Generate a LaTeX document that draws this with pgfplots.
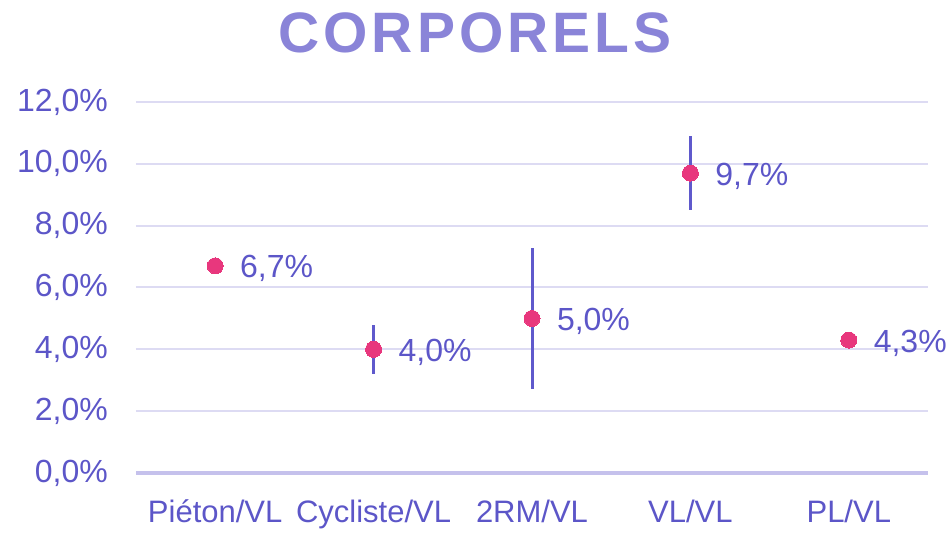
\documentclass[border=0pt]{standalone}
\usepackage{fontspec}
\setmainfont{Liberation Sans}
\newfontfamily\titlefont[LetterSpace=7]{Liberation Sans}
\usepackage{pgfplots}
\pgfplotsset{compat=1.18}
\definecolor{titlecol}{HTML}{8A84D8}
\definecolor{textcol}{HTML}{5C56C8}
\definecolor{dotcol}{HTML}{E8377D}
\definecolor{barcol}{HTML}{5F59CC}
\definecolor{gridcol}{HTML}{DDDBF3}
\definecolor{zerocol}{HTML}{C5C1EC}
\begin{document}
\begin{tikzpicture}
\useasboundingbox (0,0) rectangle (951pt,533pt);
\node[font=\titlefont\bfseries\fontsize{57}{64}\selectfont, text=titlecol, anchor=base, inner sep=0pt] at (475pt,480pt) {CORPORELS};
\begin{axis}[
  at={(136pt,60pt)}, anchor=south west,
  width=792pt, height=371pt, scale only axis,
  xmin=-0.5, xmax=4.5, ymin=0, ymax=12,
  clip=false,
  axis line style={draw=none},
  major tick length=0pt,
  ytick={0,2,4,6,8,10,12},
  yticklabels={{0,0\%},{2,0\%},{4,0\%},{6,0\%},{8,0\%},{10,0\%},{12,0\%}},
  xtick={0,1,2,3,4},
  xticklabels={Piéton/VL, Cycliste/VL, 2RM/VL, VL/VL, PL/VL},
  ymajorgrids,
  grid style={draw=gridcol, line width=2pt},
  extra y ticks={0},
  extra y tick labels={},
  extra y tick style={grid style={draw=zerocol, line width=4pt}},
  /pgf/number format/assume math mode=true,
  ticklabel style={text=textcol, inner sep=0pt},
  yticklabel style={anchor=east, xshift=-28pt, font=\fontsize{32}{36}\selectfont},
  xticklabel style={anchor=base, yshift=-49pt, font=\fontsize{31}{36}\selectfont},
  nodes near coords={\pgfmathprintnumber[fixed, fixed zerofill, precision=1, use comma]{\pgfplotspointmeta}\%},
  nodes near coords style={anchor=west, xshift=25pt, yshift=-3pt, inner sep=0pt, text=textcol, font=\fontsize{32}{36}\selectfont},
]
\addplot[only marks, mark=none, forget plot, nodes near coords={},
  error bars/.cd, y dir=both, y explicit, error mark=none,
  error bar style={draw=barcol, line width=3pt, solid}]
  coordinates {(1,4.0) +- (0,0.8) (2,5.0) +- (0,2.28) (3,9.7) +- (0,1.2)};
\addplot[only marks, mark=*, mark size=8pt, mark options={fill=dotcol, draw=dotcol, line width=0pt},
  point meta=explicit]
  coordinates {(0,6.7) [6.7] (1,4.0) [4.0] (2,5.0) [5.0] (3,9.7) [9.7] (4,4.3) [4.3]};
\end{axis}
\end{tikzpicture}
\end{document}
